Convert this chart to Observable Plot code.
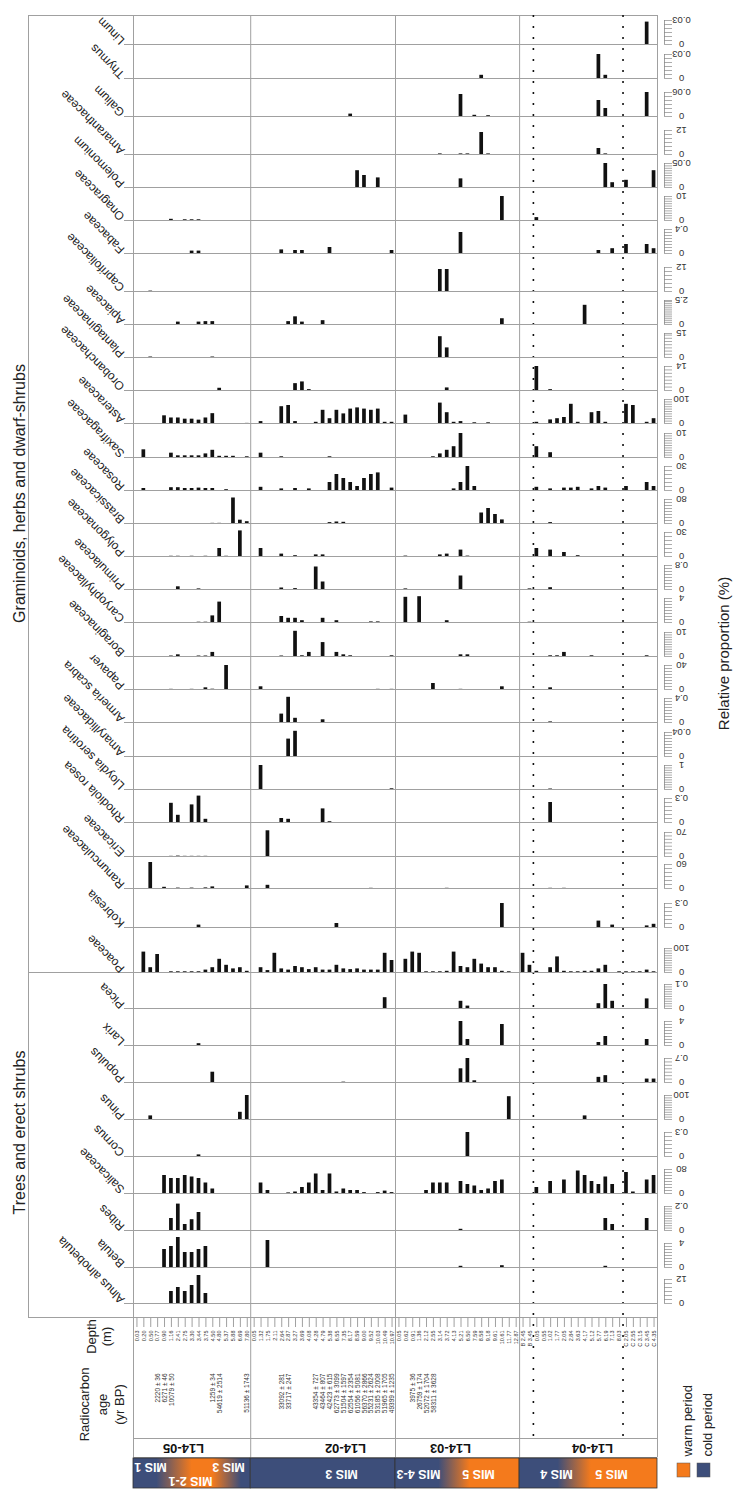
<!DOCTYPE html>
<html><head><meta charset="utf-8">
<script src="https://cdn.jsdelivr.net/npm/d3@7"></script>
<script src="https://cdn.jsdelivr.net/npm/@observablehq/plot@0.6"></script>
<style>
body{margin:0;background:#fff;font-family:"Liberation Sans",Arial,sans-serif;}
#page{position:relative;width:738px;height:1500px;overflow:hidden;background:#fff;}
#page svg{position:absolute;left:0;overflow:visible;}
</style></head><body>
<svg width="0" height="0" style="position:absolute">
<defs>
<linearGradient id="mis0" x1="0" x2="1" y1="0" y2="0"><stop offset="0" stop-color="#3d4e7a"/><stop offset="0.2" stop-color="#3d4e7a"/><stop offset="0.5" stop-color="#f47a1c"/><stop offset="0.68" stop-color="#f47a1c"/><stop offset="0.92" stop-color="#3d4e7a"/><stop offset="1" stop-color="#3d4e7a"/></linearGradient>
<linearGradient id="mis1" x1="0" x2="1" y1="0" y2="0"><stop offset="0" stop-color="#3d4e7a"/><stop offset="1" stop-color="#3d4e7a"/></linearGradient>
<linearGradient id="mis2" x1="0" x2="1" y1="0" y2="0"><stop offset="0" stop-color="#3d4e7a"/><stop offset="0.35" stop-color="#3d4e7a"/><stop offset="0.6" stop-color="#f47a1c"/><stop offset="1" stop-color="#f47a1c"/></linearGradient>
<linearGradient id="mis3" x1="0" x2="1" y1="0" y2="0"><stop offset="0" stop-color="#3d4e7a"/><stop offset="0.28" stop-color="#3d4e7a"/><stop offset="0.52" stop-color="#f47a1c"/><stop offset="1" stop-color="#f47a1c"/></linearGradient>
</defs></svg>
<div id="page"></div>
<script>
// ---------------- DATA ----------------
const sites = ["L14-05", "L14-02", "L14-03", "L14-04"];
const siteSizes = [17, 21, 18, 20];
const depths = [
  "0.03","0.20","0.50","0.77","0.90","1.16","2.41","2.75","3.30","3.44","3.75","4.50","4.80","5.37","5.88","6.69","7.80",
  "0.05","1.32","1.75","2.11","2.64","2.87","3.27","3.69","4.08","4.28","4.79","5.38","6.55","7.35","8.17","8.59","9.00","9.52","10.03","10.49","10.97",
  "0.05","0.62","0.91","1.36","2.12","2.55","3.14","3.72","4.13","5.21","6.50","7.59","8.58","9.18","9.61","10.61","11.77","12.87",
  "B 2.45","B 3.45","0.05","0.55","1.02","1.77","2.05","2.84","3.63","4.17","5.12","5.77","6.19","7.13","8.03","C 2.05","C 2.55","C 3.15","C 3.45","C 4.35"
];
const ageSample = [3, 4, 5, 11, 12, 16, 21, 22, 26, 27, 28, 29, 30, 31, 32, 33, 34, 35, 36, 37, 40, 41, 42, 43];
const ageText = ["2220 ± 36","6271 ± 46","10079 ± 50","1259 ± 34","54619 ± 2514","51136 ± 1743",
  "33092 ± 281","33717 ± 247","43354 ± 727","43464 ± 807","42423 ± 615","62773 ± 3099","51504 ± 1597","62554 ± 2354","61056 ± 5081",
  "56370 ± 2866","55231 ± 2624","53185 ± 2008","51965 ± 1705","49399 ± 1235",
  "3975 ± 36","26759 ± 174","52072 ± 1704","58311 ± 3628"];
const misLabels = ["MIS 1","MIS 3","MIS 2-1","MIS 3","MIS 4-3","MIS 5","MIS 4","MIS 5"];
const legendLabels = ["warm period","cold period"];
const legendColors = ["#f47a1c","#3d4e7a"];

const taxa = ["Linum","Thymus","Galium","Amaranthaceae","Polemonium","Onagraceae","Fabaceae","Caprifoliaceae","Apiaceae","Plantaginaceae","Orobanchaceae","Asteraceae","Saxifragaceae","Rosaceae","Brassicaceae","Polygonaceae","Primulaceae","Caryophyllaceae","Boraginaceae","Papaver","Armeria scabra","Amaryllidaceae","Lloydia serotina","Rhodiola rosea","Ericaceae","Ranunculaceae","Kobresia","Poaceae",
  "Picea","Larix","Populus","Pinus","Cornus","Salicaceae","Ribes","Betula","Alnus alnobetula"];
const axisMax = [0.03,0.03,0.06,12,0.05,10,0.4,12,2.5,15,14,100,10,30,80,30,0.8,4,10,40,0.4,0.04,1,0.3,70,60,0.3,100,
  0.1,4,0.7,100,0.3,80,0.2,4,12];

// values (%) per sample: L14-05 (17) | L14-02 (21) | L14-03 (18) | L14-04 (20)
const linum = [0,0,0,0,0,0,0,0,0,0,0,0,0,0,0,0,0, 0,0,0,0,0,0,0,0,0,0,0,0,0,0,0,0,0,0,0,0,0, 0,0,0,0,0,0,0,0,0,0,0,0,0,0,0,0,0,0, 0,0,0,0,0,0,0,0,0,0,0,0,0,0,0,0,0,0,0.028,0];
const thymus = [0,0,0,0,0,0,0,0,0,0,0,0,0,0,0,0,0, 0,0,0,0,0,0,0,0,0,0,0,0,0,0,0,0,0,0,0,0,0, 0,0,0,0,0,0,0,0,0,0,0,0,0.004,0,0,0,0,0, 0,0,0,0,0,0,0,0,0,0,0,0.03,0.004,0,0,0,0,0,0,0];
const galium = [0,0,0,0,0,0,0,0,0,0,0,0,0,0,0,0,0, 0,0,0,0,0,0,0,0,0,0,0,0,0,0,0.006,0,0,0,0,0,0, 0,0,0,0,0,0,0,0,0,0.055,0,0.003,0,0.002,0,0,0,0, 0,0,0,0,0,0,0,0,0,0,0,0.04,0.02,0,0,0,0,0,0.06,0];
const amaranthaceae = [0,0,0,0,0,0,0,0,0,0,0,0,0,0,0,0,0, 0,0,0,0,0,0,0,0,0,0,0,0,0,0,0,0,0,0,0,0,0, 0,0,0,0,0,0,0.3,0,0,0.3,0.3,0,11,0.3,0,0,0,0, 0,0,0,0,0,0,0,0,0,0,0,3,0.3,0,0,0,0,0,0,0];
const polemonium = [0,0,0,0,0,0,0,0,0,0,0,0,0,0,0,0,0, 0,0,0,0,0,0,0,0,0,0,0,0,0,0,0,0.035,0.025,0,0.02,0,0, 0,0,0,0,0,0,0,0,0,0.018,0,0,0,0,0,0,0,0, 0,0,0,0,0,0,0,0,0,0,0,0,0.05,0.01,0,0.015,0,0,0,0.035];
const onagraceae = [0,0,0,0,0,0.5,0,0.3,0.3,0.3,0,0,0,0,0,0,0, 0,0,0,0,0,0,0,0,0,0,0,0,0,0,0,0,0,0,0,0,0, 0,0,0,0,0,0,0,0,0,0,0,0,0,0,0,10,0,0, 0,0,1.2,0,0,0,0,0,0,0,0,0,0,0,0,0,0,0,0,0];
const fabaceae = [0,0,0,0,0,0,0,0,0.04,0.04,0,0,0,0,0,0,0, 0,0,0,0,0.06,0,0.05,0.05,0,0,0,0.1,0,0,0,0,0,0,0,0,0.05, 0,0,0,0,0,0,0,0,0,0.35,0,0,0,0,0,0,0,0, 0,0,0,0,0,0,0,0,0,0,0,0.05,0,0.08,0,0.15,0,0,0.15,0.08];
const caprifoliaceae = [0,0,0.2,0,0,0,0,0,0,0,0,0,0,0,0,0,0, 0,0,0,0,0,0,0,0,0,0,0,0,0,0,0,0,0,0,0,0,0, 0,0,0,0,0,0,11,11,0,0,0,0,0,0,0,0,0,0, 0,0,0,0,0,0,0,0,0,0,0,0,0,0,0,0,0,0,0,0];
const apiaceae = [0,0,0,0,0,0,0.25,0,0,0.25,0.3,0.3,0,0,0,0,0, 0,0,0,0,0,0.3,0.8,0.25,0,0,0.4,0,0,0,0,0,0,0,0,0,0, 0,0,0,0,0,0,0,0,0,0,0,0,0,0,0,0.6,0,0, 0,0,0,0,0,0,0,0,0,2,0,0,0,0,0,0,0,0,0,0];
const plantaginaceae = [0,0,0.3,0,0,0,0,0,0,0,0,0.3,0,0,0,0,0, 0,0,0,0,0,0,0,0,0,0,0,0,0,0,0,0,0,0,0,0,0, 0,0,0,0,0,0,13,6,0,0,0,0,0,0,0,0,0,0, 0,0,0,0,0,0,0,0,0,0,0,0,0,0,0,0,0,0,0,0];
const orobanchaceae = [0,0,0,0,0,0,0,0,0,0,0,0,1.3,0,0,0,0, 0,0,0,0,0,0,4,5,0.5,0,0,0,0,0,0,0,0,0,0,0,0, 0,0,0,0,0,0,0,1.5,0,0,0,0,0,0,0,0,0,0, 0,0,14,0,0.5,0,0,0,0,0,0,0,0,0,0,0,0,0,0,0];
const asteraceae = [0,0,0,0,32,23,23,18,18,14,23,41,0,0,0,0,0.5, 0,8,0,0,70,75,8,0,0,5,55,20,55,40,60,65,60,55,60,5,5, 0,35,0,0,0,0,85,45,5,8,0,3,0,3,0,0,0,0, 0,0,5,0,15,20,25,80,5,0,45,50,5,0,0,80,75,0,5,20];
const saxifragaceae = [0,3.2,0,0,0,1.8,0.7,0.7,0.7,0.7,1.5,3,0.5,0.5,0.5,0,0.3, 0,1.8,0,0,0.3,0,0,0,0,0,0,0.3,0,0,0,0,0,0,0,0,0, 0,0,0,0,0,0.3,1.5,3,4.5,10,0,0,0,0,0,0,0,0, 0,0,4.5,0,2,0,0,0,0,0,0,0,0,0,0,0,0,0,0,0];
const rosaceae = [0,2.5,0,0,0,3.5,3.5,2.5,2.5,3,2.5,2.5,0,1,0,0,0, 0,4,0,0,2,0,2.5,0,2,0,0,10,20,15,10,5,15,20,22,0,3, 0,0,0,0,0,0,0,0,2,10,30,5,0,0,0,0,0,0, 0,0,4,0,2,0,3,3,4,0,2,5,3,0,0,5,0,0,10,5];
const brassicaceae = [0,0,0,0,0,0,0,0,0,0,0,0.5,0.5,0,85,11,6, 0,0,0,0,0,0,0,0,0,0,0,3,5,4,0,0,0,0,0,0,0, 0,0,0,0,0,0,0,0,0,0,0,0,35,50,30,12,0,0, 0,0,0,0,3,0,0,0,0,0,0,0,0,0,0,0,0,0,0,0];
const polygonaceae = [0,0,0,0,0,0.3,0.3,0,0.3,0,0.3,0,10,0.3,0,32,0, 0,10,0,0,3,0,1,0,0,2,2,0,0,0,0,0,0,0,0,0,0, 0,0.5,0,0,0,0,2,3,0,8,0.5,0,0,0,0,0,0,0, 0,0,10,0,8,0,5,0,1,0,0,0,0,0,0,0,0,0,0,0];
const primulaceae = [0,0,0,0,0,0,0.09,0,0,0.02,0,0,0,0,0,0,0, 0,0,0,0,0.05,0,0.03,0,0,0.75,0.25,0,0,0,0,0,0,0,0,0,0, 0,0.02,0,0,0,0,0,0,0,0.45,0,0,0,0,0,0,0,0, 0,0.02,0,0,0.06,0,0,0,0,0,0,0,0,0,0,0,0,0,0,0];
const caryophyllaceae = [0,0,0,0,0,0,0,0,0,0.05,0.05,1.1,3.4,0,0,0,0, 0,0,0,0,1,0.7,0.7,0.3,0,0,0.7,0,0.3,0,0,0,0,0.1,0.1,0,0, 0,4.2,0,4.3,0,0,0,0.3,0,0,0,0,0,0,0,0,0,0, 0,0.05,0,0,0,0,0,0,0,0,0,0,0,0,0,0,0,0,0,0];
const boraginaceae = [0,0,0,0,0,0.2,0.7,0,0,0.2,0.2,1.7,0,0,0,0,0, 0,0,0,0,0.2,0,10.5,0.3,1.7,0,5.8,0,1.7,0.7,0.3,0,0,0,0,0,0.3, 0,0,0,0,0,0,0,0,0,0.7,0.7,0,0,0,0,0,0,0, 0,0,0,0,0.3,0.3,1.7,0,0,0,0.3,0,0,0,0,0,0,0,0.3,0];
const papaver = [0,0,0,0,0,0.3,0,0,0.3,0,2.8,0.5,0,40,0,0,0, 0,4.5,0,0,0,0,0,0,0,0,0,0,0,0,0,0,0,0,0.3,0,0.3, 0,0,0,0,0,10,0,0,0,0.3,0,0,0,0,0,4.5,0,0, 0,0,0,0,2.8,0,0,0,0,0,0,0,0,0,0,0,0,0,0,0];
const armeria = [0,0,0,0,0,0,0,0,0,0,0,0,0,0,0,0,0, 0,0,0,0,0.14,0.42,0.07,0,0,0,0.045,0,0,0,0,0,0,0,0,0,0, 0,0,0,0,0,0,0,0,0,0,0,0,0,0,0,0,0,0, 0,0,0,0,0.01,0,0,0,0,0,0,0,0,0,0,0,0,0,0,0];
const amaryllidaceae = [0,0,0,0,0,0,0,0,0,0,0,0,0,0,0,0,0, 0,0,0,0,0,0.029,0.042,0,0,0,0,0,0,0,0,0,0,0,0,0,0, 0,0,0,0,0,0,0,0,0,0,0,0,0,0,0,0,0,0, 0,0,0,0,0,0,0,0,0,0,0,0,0,0,0,0,0,0,0,0];
const lloydia = [0,0,0,0,0,0,0,0,0,0,0,0,0,0,0,0,0, 0,1,0,0,0,0,0,0,0,0,0,0,0,0,0,0,0,0,0,0,0.03, 0,0,0,0,0,0,0,0,0,0,0,0,0,0,0,0,0,0, 0,0,0,0,0.02,0,0,0,0,0,0,0,0,0,0,0,0,0,0,0];
const rhodiola = [0,0,0,0,0,0.24,0.09,0,0.22,0.33,0.04,0,0,0,0,0,0, 0,0,0,0,0.05,0.04,0,0,0,0,0.17,0.01,0,0,0,0,0,0,0,0,0, 0,0,0,0,0,0,0,0,0,0,0,0,0,0,0,0,0,0, 0,0,0,0,0.25,0,0,0,0,0,0,0,0,0,0,0,0,0,0,0];
const ericaceae = [0,0,0,0,0,0.5,1.2,0.5,0.5,0.5,0.5,0,0,0,0,0,0, 0,0,75,0,0,0,0,0,0,0,0,0,0,0,0,0,0,0,0,0,0, 0,0,0,0,0,0,0,0,0,0,0,0,0,0,0,0,0,0, 0,0,0,0,0,0,0,0,0,0,0,0,0,0,0,0,0,0,0,0];
const ranunculaceae = [0,0,65,0,3,0,1,0,1,0,1.5,4,0,0,0,0,6.5, 0,0,8,0,0,0,0,0,0,0,0,0,0,0,0,0,0,0.5,0,0,0, 0,0,0,0,0,0,0,0.5,0,0,0,0,0,0,0,0,0,0, 0,0,0,0,0.5,0,0.5,0,0,0,0,0,0,0,0,0,0,0,0,0];
const kobresia = [0,0,0,0,0,0,0,0,0,0.03,0,0,0,0,0,0,0, 0,0,0,0,0,0,0,0,0,0,0,0,0.05,0,0,0,0,0,0,0,0, 0,0,0,0,0,0,0,0,0,0,0,0,0,0,0,0.3,0,0, 0,0,0,0,0,0,0,0,0,0,0,0.08,0,0.03,0,0,0,0,0.02,0.04];
const poaceae = [0,85,20,75,0,3,3,3,3,3,10,20,55,30,15,20,5, 0,20,8,80,15,10,25,20,12,20,10,10,30,15,12,15,10,10,10,80,50, 0,55,85,80,3,3,3,5,85,25,20,55,35,20,20,5,3,0, 80,30,5,0,20,65,5,3,3,5,5,15,30,0,3,3,3,3,10,3];
const picea = [0,0,0,0,0,0,0,0,0,0,0,0,0,0,0,0,0, 0,0,0,0,0,0,0,0,0,0,0,0,0,0,0,0,0,0,0,0.045,0, 0,0,0,0,0,0,0,0,0,0.03,0.01,0,0,0,0,0,0,0, 0,0,0,0,0,0,0,0,0,0,0,0.02,0.1,0.03,0,0,0,0,0.04,0];
const larix = [0,0,0,0,0,0,0,0,0,0.3,0,0,0,0,0,0,0, 0,0,0,0,0,0,0,0,0,0,0,0,0,0,0,0,0,0,0,0,0, 0,0,0,0,0,0,0,0,0,4,1,0,0,0,0,3.5,0,0, 0,0,0,0,0,0,0,0,0,0,0,0.5,1.5,0,0,0,0,0,1,0];
const populus = [0,0,0,0,0,0,0,0,0,0,0,0.3,0,0,0,0,0, 0,0,0,0,0,0,0,0,0,0,0,0,0,0.01,0,0,0,0,0,0,0, 0,0,0,0,0,0,0,0,0,0.4,0.7,0.05,0,0,0,0,0,0, 0,0,0,0,0,0,0,0,0,0,0,0.15,0.2,0,0,0,0,0,0.1,0.1];
const pinus = [0,0,15,0,0,0,0,0,0,0,0,0,0,0,0,30,100, 0,0,0,0,0,0,0,0,0,0,0,0,0,0,0,0,0,0,0,0,0, 0,0,0,0,0,0,0,0,0,0,0,0,0,0,0,0,95,0, 0,0,0,0,0,0,0,0,0,15,0,0,0,0,0,0,0,0,0,0];
const cornus = [0,0,0,0,0,0,0,0,0,0.02,0,0,0,0,0,0,0, 0,0,0,0,0,0,0,0,0,0,0,0,0,0,0,0,0,0,0,0,0, 0,0,0,0,0,0,0,0,0,0,0.3,0,0,0,0,0,0,0, 0,0,0,0,0,0,0,0,0,0,0,0,0,0,0,0,0,0,0,0];
const salicaceae = [0,0,0,0,60,50,50,60,55,50,35,15,0,0,0,0,0, 0,35,10,0,0,2,5,20,35,65,10,65,5,15,10,10,3,0,3,8,3, 0,0,0,0,10,35,35,35,0,40,30,25,10,15,40,45,0,0, 0,0,20,0,40,0,45,0,75,60,40,30,55,30,0,70,5,0,45,60];
const ribes = [0,0,0,0,0,0.1,0.22,0.05,0.09,0.15,0,0,0,0,0,0,0, 0,0,0,0,0,0,0,0,0,0,0,0,0,0,0,0,0,0,0,0,0, 0,0,0,0,0,0,0,0,0,0.01,0,0,0,0,0,0,0,0, 0,0,0,0,0,0,0,0,0,0,0,0,0.1,0.05,0,0,0,0,0.1,0];
const betula = [0,0,0,0,3,3.5,5,2.5,2.5,3,3.5,0,0,0,0,0,0, 0,0,4.5,0,0,0,0,0,0,0,0,0,0,0,0,0,0,0,0,0,0, 0,0,0,0,0,0,0,0,0,0.2,0,0,0,0,0,0.3,0,0, 0,0,0,0,0,0,0,0,0,0,0,0,0.2,0,0,0,0,0,0,0];
const alnus = [0,0,0,0,0,6,8,6,9,14,5,0,0,0,0,0,0, 0,0,0,0,0,0,0,0,0,0,0,0,0,0,0,0,0,0,0,0,0, 0,0,0,0,0,0,0,0,0,0,0,0,0,0,0,0,0,0, 0,0,0,0,0,0,0,0,0,0,0,0,0,0,0,0,0,0,0,0];

const series = [linum,thymus,galium,amaranthaceae,polemonium,onagraceae,fabaceae,caprifoliaceae,apiaceae,plantaginaceae,orobanchaceae,asteraceae,saxifragaceae,rosaceae,brassicaceae,polygonaceae,primulaceae,caryophyllaceae,boraginaceae,papaver,armeria,amaryllidaceae,lloydia,rhodiola,ericaceae,ranunculaceae,kobresia,poaceae,
  picea,larix,populus,pinus,cornus,salicaceae,ribes,betula,alnus];

// ---------------- LAYOUT ----------------
const page = document.getElementById("page");
const N = depths.length;
const X0 = 133, X1 = 657;
const step = (X1 - X0) / N;
const px = p => (p - X0) / step;          // page x (px) -> sample units
const xOpt = {domain: [0, N], range: [X0, X1], axis: null};
const FONT = "Liberation Sans, Arial, sans-serif";
const baselines = [44,78,116,154,187,220,253,291,324,357,390,423,457,490,523,556,589,622,656,689,722,756,789,822,856,888,927,972,
  1008,1045,1082,1119,1156,1193,1230,1267,1303];
const TOP = 15, RULER = 24;
const GRID = "#a0a0a0";

const cum = d3.cumsum(siteSizes);
const bounds = [0, ...cum];
const firstC = depths.findIndex(d => d.startsWith("C"));
const dotted = [cum[2] + depths.slice(cum[2]).filter(d => d.startsWith("B")).length, firstC];

// background plot: frame, separators, titles, bottom annotations
const siteData = sites.map((s, k) => ({s, k, a: bounds[k], b: bounds[k + 1]}));
const misX = [px(150), px(228), px(190), px(341), px(418), px(478), px(556), px(611)];
const misY = [1466, 1466, 1480, 1473, 1473, 1473, 1473, 1473];
const siteLabelX = [px(183), px(345), px(450), px(592)];
const bg = Plot.plot({
  width: 738, height: 1500, margin: 0,
  x: xOpt, y: {domain: [0, 1500], range: [0, 1500], axis: null},
  style: {background: "transparent", overflow: "visible", fontFamily: FONT},
  marks: [
    Plot.ruleY([TOP], {x1: px(28), x2: N, stroke: GRID}),
    Plot.ruleY([1317], {x1: px(28), x2: N, stroke: GRID}),
    Plot.ruleX([px(28)], {y1: TOP, y2: 1317, stroke: GRID}),
    Plot.ruleX(bounds, {y1: TOP, y2: 1457, stroke: GRID}),
    Plot.ruleX(dotted, {y1: TOP, y2: 1438, stroke: "#111", strokeWidth: 1.6, strokeDasharray: "2,9"}),
    Plot.ruleY([1438, 1457], {x1: 0, x2: N, stroke: GRID}),
    Plot.ruleX(depths, {x: (d, i) => i + 0.5, y1: 1318, y2: 1327, stroke: "#888", strokeWidth: 0.8}),
    Plot.text(depths, {x: (d, i) => i + 0.5, y: 1330, rotate: -90, textAnchor: "end", fontSize: 5.5, fill: "#333"}),
    Plot.text(ageText, {x: (d, i) => ageSample[i] + 0.5, y: 1373, rotate: -90, textAnchor: "end", fontSize: 6.5, fill: "#333"}),
    Plot.text(sites, {x: (d, i) => siteLabelX[i], y: 1448, rotate: 180, fontWeight: "bold", fontSize: 13, fill: "#111"}),
    ...siteData.map(d => Plot.rect([d], {x1: "a", x2: "b", y1: 1458, y2: 1488, fill: `url(#mis${d.k})`, stroke: "#333", strokeWidth: 0.8})),
    Plot.text(misLabels, {x: (d, i) => misX[i], y: (d, i) => misY[i], rotate: 180, fill: "white", fontWeight: "bold", fontSize: 12.5}),
    Plot.text(["Graminoids, herbs and dwarf-shrubs"], {x: px(19), y: 493, rotate: -90, fontSize: 16, fill: "#222"}),
    Plot.text(["Trees and erect shrubs"], {x: px(19), y: 1132, rotate: -90, fontSize: 16, fill: "#222"}),
    Plot.text(["Relative proportion (%)"], {x: px(724), y: 653, rotate: -90, fontSize: 15, fill: "#222"}),
    Plot.text(["Radiocarbon", "age", "(yr BP)"], {x: (d, i) => px([84, 102, 119][i]), y: 1404, rotate: -90, fontSize: 13, fill: "#222"}),
    Plot.text(["Depth", "(m)"], {x: (d, i) => px([91, 106][i]), y: 1336, rotate: -90, fontSize: 13, fill: "#222"}),
    Plot.rect(legendLabels, {x1: (d, i) => px([677, 697][i]), x2: (d, i) => px([690, 710][i]), y1: 1463, y2: 1477, fill: (d, i) => legendColors[i], stroke: "#555", strokeWidth: 0.5}),
    Plot.text(legendLabels, {x: (d, i) => px([687, 707][i]), y: 1456, rotate: -90, textAnchor: "start", fontSize: 13, fill: "#222"})
  ]
});
bg.style.top = "0px";
page.appendChild(bg);

// one strip plot per taxon
taxa.forEach((name, k) => {
  const top = k === 0 ? TOP : baselines[k - 1];
  const h = baselines[k] - top;
  const max = axisMax[k];
  const data = series[k].map((v, i) => ({i, v})).filter(d => d.v > 0);
  const ticks = Array.from(new Set([...d3.ticks(0, max, 8), max]));
  const lineStart = name === "Poaceae" ? px(28) : px(124);
  const p = Plot.plot({
    width: 738, height: h, margin: 0,
    x: xOpt,
    y: {domain: [0, max], range: [h, h - RULER], axis: null},
    style: {background: "transparent", overflow: "visible", fontFamily: FONT},
    marks: [
      Plot.ruleY([0], {x1: lineStart, x2: N, stroke: GRID}),
      Plot.rect(data, {x1: "i", x2: d => d.i + 1, y1: 0, y2: "v", insetLeft: 1.6, insetRight: 1.6, fill: "#111"}),
      Plot.ruleX([N], {y1: 0, y2: max, dx: 7, stroke: "#888", strokeWidth: 0.8}),
      Plot.ruleY(ticks, {x1: N, x2: N + 8 / step, dx: 7, stroke: "#888", strokeWidth: 0.7}),
      Plot.text([0, max], {x: N, y: d => d, dx: 24, rotate: 180, text: d => String(d), fontSize: 9.5, fill: "#333"}),
      Plot.text([name], {x: 0, y: 0, dx: -11, dy: -2, rotate: -135, textAnchor: "start", fontSize: 12, fill: "#222"})
    ]
  });
  p.style.top = top + "px";
  page.appendChild(p);
});
</script>
</body></html>
